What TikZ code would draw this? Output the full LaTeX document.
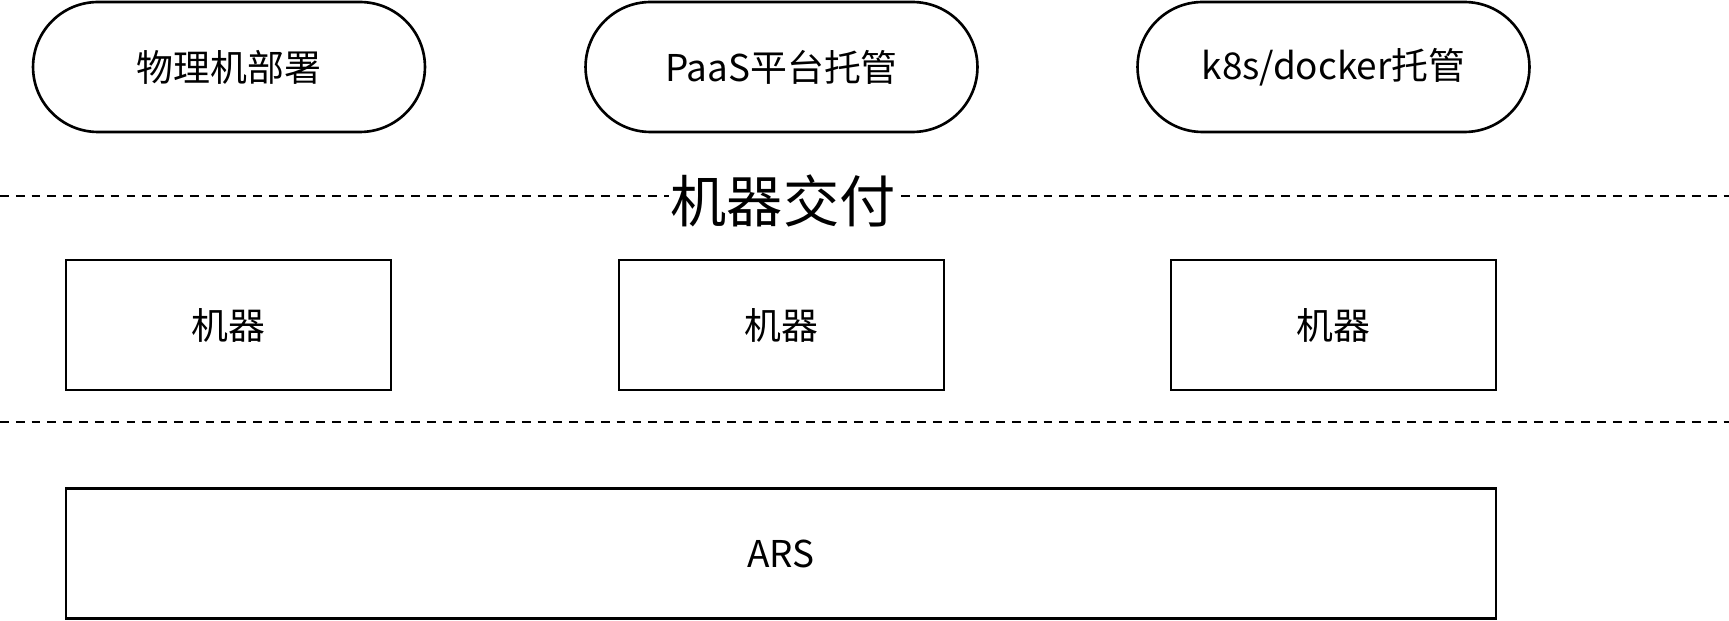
\documentclass[tikz,border=0pt]{standalone}
\usepackage{fontspec}
\setmainfont{Noto Sans CJK SC}
\usepackage{tikz}
\usetikzlibrary{positioning}
\tikzset{
  stadium/.style = {draw, line width=1.5pt, rounded corners=1.3cm,
                    minimum width=7.84cm, minimum height=2.6cm, align=center},
  box/.style     = {draw, line width=1.5pt, rectangle,
                    minimum width=6.5cm, minimum height=2.6cm, align=center},
  sepline/.style = {line width=1.4pt, dash pattern=on 5pt off 4pt},
  title/.style   = {fill=white, inner sep=1pt, font=\fontsize{32}{36}\selectfont},
}

\begin{document}
\begin{tikzpicture}[x=0.02cm,y=-0.02cm,font=\fontsize{21}{25}\selectfont]
\useasboundingbox (0,0) rectangle (1729,621);
% deployment modes
\node[stadium] (phys)   at (229,67)    {物理机部署};
\node[stadium] (paas)   at (781.5,67)  {PaaS平台托管};
\node[stadium] (docker) at (1333.5,67) {k8s/docker托管};
% delivery line
\coordinate (l1) at (0,196); \coordinate (r1) at (1729,196);
\draw[sepline] (l1) -- (r1);
\node[title] (deliver) at (783,201) {机器交付};
% machines
\node[box] (m1) at (228.5,325)  {机器};
\node[box] (m2) at (781.5,325)  {机器};
\node[box] (m3) at (1333.5,325) {机器};
\coordinate (l2) at (0,422); \coordinate (r2) at (1729,422);
\draw[sepline] (l2) -- (r2);
% ARS
\node[box,minimum width=28.6cm] (ars) at (781,553.5) {ARS};
\end{tikzpicture}
\end{document}
